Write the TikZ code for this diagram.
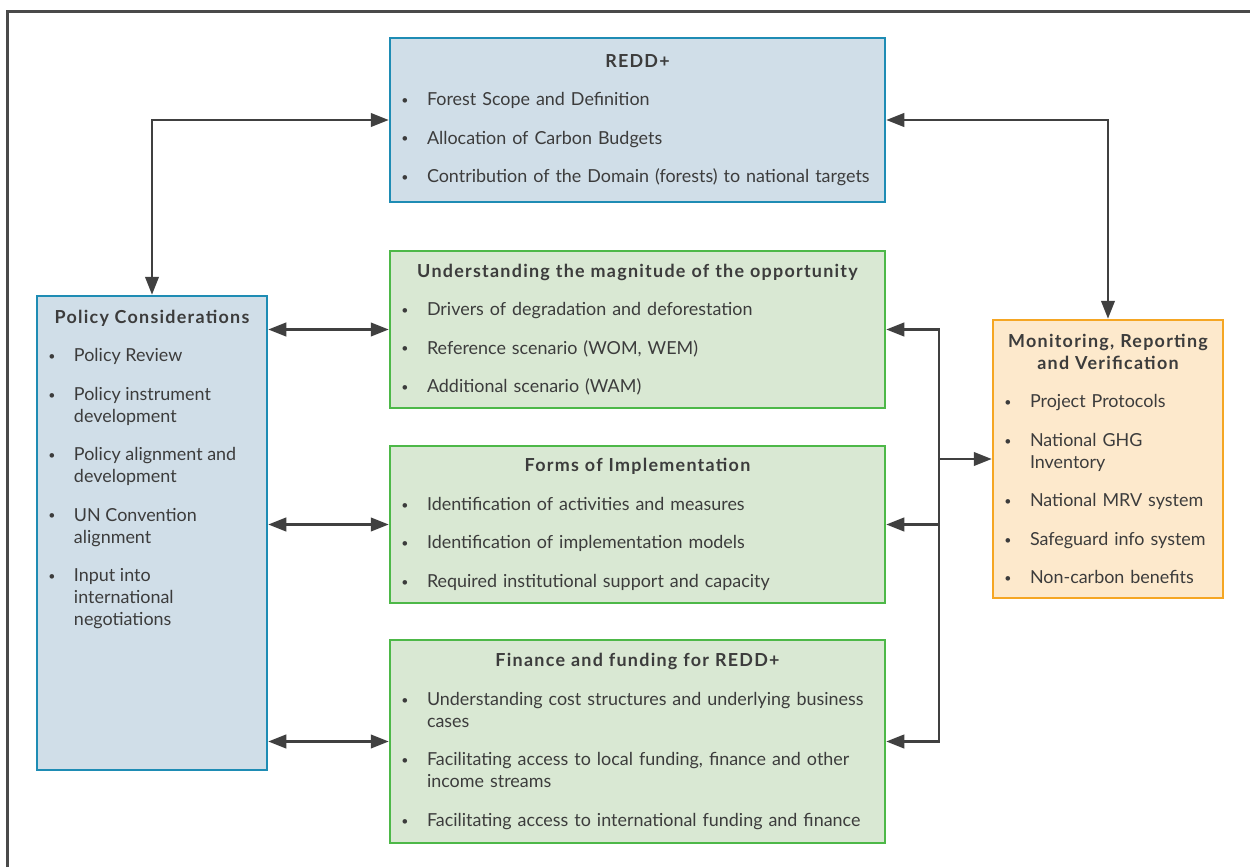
\documentclass[tikz,border=0pt]{standalone}
\usepackage{fontspec}
\setmainfont{Lato}
\usepackage{xcolor}
\usetikzlibrary{
	arrows.meta,
	calc,
	positioning
}

\newdimen\px \px=0.2mm
\definecolor{reddblue}{HTML}{1E8CB4}
\definecolor{reddfill}{HTML}{D0DEE8}
\definecolor{stepgreen}{HTML}{4DB848}
\definecolor{stepfill}{HTML}{D9E8D3}
\definecolor{mrvorange}{HTML}{F5A623}
\definecolor{mrvfill}{HTML}{FDE9CC}
\definecolor{linkgray}{HTML}{404040}
\definecolor{framegray}{HTML}{4A4A4A}
\definecolor{textgray}{HTML}{3C3C3C}

\newcommand{\dotmark}{\makebox[0pt]{\raisebox{0.6pt}{\fontsize{7}{7}\selectfont\textbullet}}}
\newenvironment{points}{\begin{list}{\dotmark}{%
	\setlength\leftmargin{22\px}\setlength\labelwidth{22\px}\setlength\labelsep{0pt}%
	\setlength\topsep{0pt}\setlength\partopsep{0pt}\setlength\parsep{0pt}%
	\setlength\itemsep{9.4pt}\renewcommand\makelabel[1]{##1\hfil}}}{\end{list}}
\newcommand{\paneltitle}[1]{{\centering\bfseries\addfontfeatures{LetterSpace=7}#1\par}\vspace{9.3pt}}

\tikzset{
	panel/.style={draw, line width=2.5\px, text=textgray, inner xsep=15\px, inner ysep=0pt,
		font=\fontsize{10.2}{12.5}\selectfont},
	reddbox/.style={panel, draw=reddblue, fill=reddfill},
	stepbox/.style={panel, draw=stepgreen, fill=stepfill, text width=465\px, minimum height=157\px},
	mrvbox/.style={panel, draw=mrvorange, fill=mrvfill},
	link/.style={draw=linkgray, line width=2.5\px},
	twoway/.style={link, {Triangle[length=3.6mm,width=2.7mm]}-{Triangle[length=3.6mm,width=2.7mm]}},
	oneway/.style={link, -{Triangle[length=3.6mm,width=2.7mm]}}
}

\begin{document}
\begin{tikzpicture}[x=0.2mm, y=-0.2mm]
		\useasboundingbox (0,0) rectangle (1250,867);
		\draw[framegray, line width=3\px] (7,867) -- (7,11) -- (1250,11);

		% boxes
		\node[reddbox, text width=465\px, minimum height=164\px] (redd) at (637.5,120) {
			\paneltitle{REDD+}
			\begin{points}
				\item Forest Scope and Definition
				\item Allocation of Carbon Budgets
				\item Contribution of the Domain (forests) to national targets
			\end{points}};
		\node[stepbox] (under) at (637.5,329.5) {
			\paneltitle{Understanding the magnitude of the opportunity}
			\begin{points}
				\item Drivers of degradation and deforestation
				\item Reference scenario (WOM, WEM)
				\item Additional scenario (WAM)
			\end{points}};
		\node[stepbox] (forms) at (637.5,524.5) {
			\paneltitle{Forms of Implementation}
			\begin{points}
				\item Identification of activities and measures
				\item Identification of implementation models
				\item Required institutional support and capacity
			\end{points}};
		\node[stepbox, minimum height=203\px] (fin) at (637.5,741.5) {
			\paneltitle{Finance and funding for REDD+}
			\begin{points}
				\item Understanding cost structures and underlying business\newline cases
				\item Facilitating access to local funding, finance and other\newline income streams
				\item Facilitating access to international funding and finance
			\end{points}};
		\node[reddbox] (policy) at (152,533) {%
			\parbox[c][474\px][t]{200\px}{\vspace*{14\px}%
			\paneltitle{Policy Considerations}
			\begin{points}
				\item Policy Review
				\item Policy instrument\newline development
				\item Policy alignment and\newline development
				\item UN Convention\newline alignment
				\item Input into\newline international\newline negotiations
			\end{points}}};
		\node[mrvbox, text width=200\px, minimum height=278\px] (mrv) at (1108,459) {
			\paneltitle{Monitoring, Reporting\\and Verification}
			\begin{points}
				\item Project Protocols
				\item National GHG\newline Inventory
				\item National MRV system
				\item Safeguard info system
				\item Non-carbon benefits
			\end{points}};

		% links
		\coordinate (bus) at ($(under.east)!0.5!(mrv.west)$);
		\draw[twoway] (policy.north) |- (redd.west);
		\draw[twoway] (redd.east) -| (mrv.north);
		\draw[twoway] (policy.east |- under.west) -- (under.west);
		\draw[twoway] (policy.east |- forms.west) -- (forms.west);
		\draw[twoway] (policy.east |- fin.west) -- (fin.west);
		\draw[twoway] (under.east) -| (bus |- fin.east) -- (fin.east);
		\draw[oneway] (bus |- forms.east) -- (forms.east);
		\draw[oneway] (bus |- mrv.west) -- (mrv.west);
	\end{tikzpicture}
\end{document}
